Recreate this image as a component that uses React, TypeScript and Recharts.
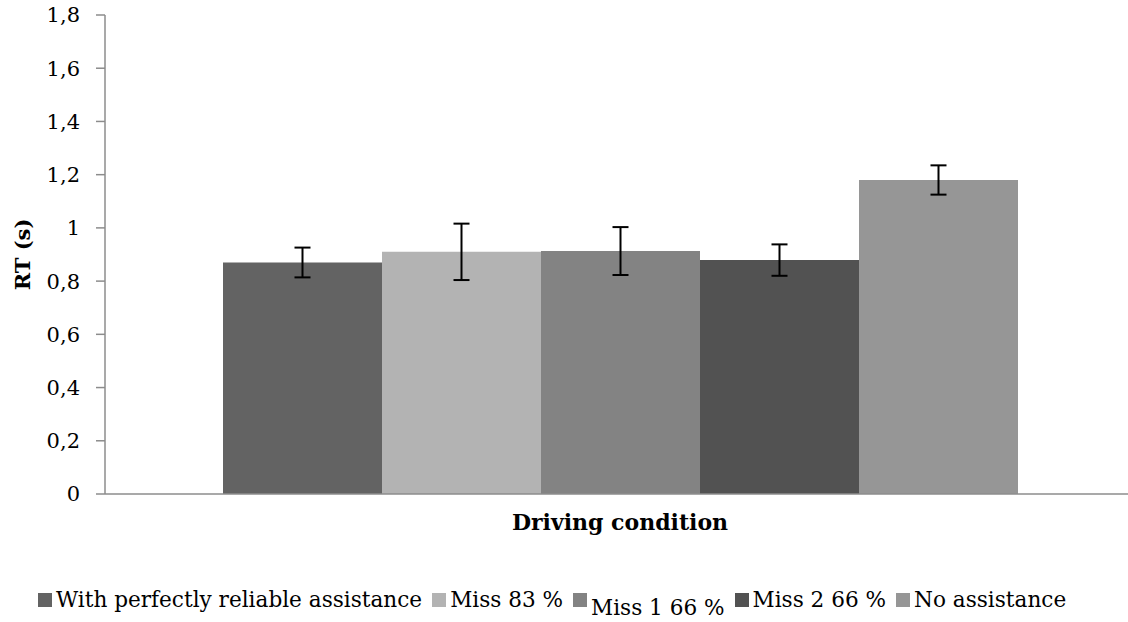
import React from 'react';
import { BarChart, Bar, XAxis, YAxis, ErrorBar } from 'recharts';

const categories = ['Driving condition'];
const seriesNames = [
  'With perfectly reliable assistance',
  'Miss 83 %',
  'Miss 1 66 %',
  'Miss 2 66 %',
  'No assistance',
];
const meanRT = [0.87, 0.91, 0.913, 0.879, 1.18];
const errRT = [0.056, 0.106, 0.09, 0.059, 0.055];
const seriesColors = ['#636363', '#b3b3b3', '#838383', '#525252', '#969696'];
const yTicks = [0, 0.2, 0.4, 0.6, 0.8, 1, 1.2, 1.4, 1.6, 1.8];

const data = categories.map((name) => {
  const row: Record<string, any> = { name };
  seriesNames.forEach((_, i) => {
    row[`s${i}`] = meanRT[i];
    row[`e${i}`] = errRT[i];
  });
  return row;
});

const FONT = '"DejaVu Serif", serif';
const AXIS = '#8c8c8c';

const fmt = (v: number) => String(Number(v.toFixed(1))).replace('.', ',');

export default function App() {
  return (
    <div
      style={{
        position: 'absolute',
        left: 0,
        top: 0,
        width: 1128,
        height: 622,
        overflow: 'hidden',
        background: '#fff',
        fontFamily: FONT,
      }}
    >
      <BarChart
        width={1140}
        height={622}
        data={data}
        margin={{ top: 15, right: 5, left: 0, bottom: 0 }}
        barGap={0}
      >
        <XAxis
          dataKey="name"
          tick={false}
          tickLine={false}
          axisLine={{ stroke: AXIS, strokeWidth: 1.5 }}
          height={128}
          label={{
            value: 'Driving condition',
            position: 'insideTop',
            offset: 20,
            style: { fontFamily: FONT, fontWeight: 'bold', fontSize: 22, fill: '#000' },
          }}
        />
        <YAxis
          domain={[0, 1.8]}
          ticks={yTicks}
          interval={0}
          width={105}
          tickSize={9}
          tickMargin={16}
          tickFormatter={fmt}
          axisLine={{ stroke: AXIS, strokeWidth: 1.5 }}
          tickLine={{ stroke: AXIS, strokeWidth: 1.5 }}
          tick={{ fill: '#000', fontSize: 21, fontFamily: FONT }}
          label={{
            value: 'RT (s)',
            angle: -90,
            position: 'insideLeft',
            offset: 23,
            style: { textAnchor: 'middle', fontFamily: FONT, fontWeight: 'bold', fontSize: 21, fill: '#000' },
          }}
        />
        {seriesNames.map((n, i) => (
          <Bar
            key={n}
            dataKey={`s${i}`}
            name={n}
            fill={seriesColors[i]}
            barSize={159}
            isAnimationActive={false}
          >
            <ErrorBar dataKey={`e${i}`} width={8} stroke="#000" strokeWidth={2} direction="y" />
          </Bar>
        ))}
      </BarChart>
      <div
        style={{
          position: 'absolute',
          left: 38,
          top: 588,
          display: 'flex',
          alignItems: 'flex-start',
          whiteSpace: 'nowrap',
          fontSize: 21.6,
          lineHeight: '24px',
          color: '#000',
        }}
      >
        {seriesNames.map((n, i) => (
          <div key={n} style={{ display: 'flex', alignItems: 'flex-start', marginRight: 10 }}>
            <div
              style={{
                width: 14,
                height: 14,
                background: seriesColors[i],
                marginTop: 5,
                marginRight: 4,
              }}
            />
            <span style={{ position: 'relative', top: i === 2 ? 8 : 0 }}>{n}</span>
          </div>
        ))}
      </div>
    </div>
  );
}
